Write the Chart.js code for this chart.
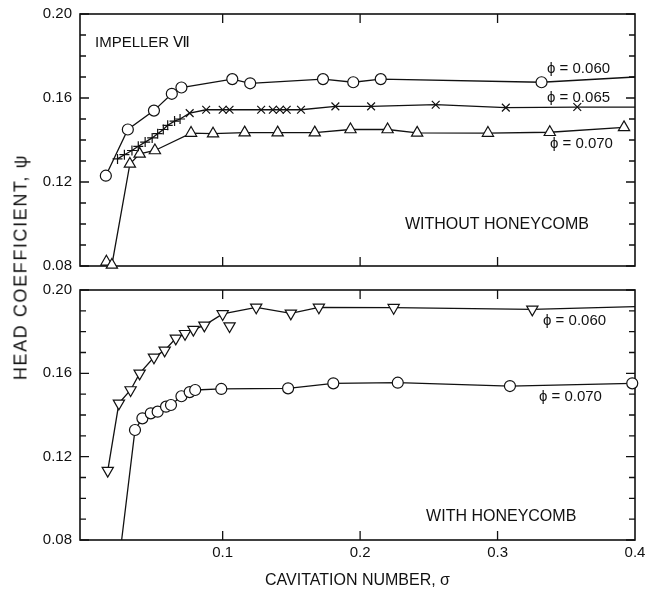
<!DOCTYPE html>
<html>
<head>
<meta charset="utf-8">
<script src="https://cdn.jsdelivr.net/npm/chart.js@4.4.0/dist/chart.umd.min.js"></script>
<style>
  body { margin: 0; background: #fff; }
  #wrap { position: relative; width: 661px; height: 596px; font-family: "Liberation Sans", Arial, sans-serif; color: #111; }
  #topChart { position: absolute; left: 0; top: 0; }
  #botChart { position: absolute; left: 0; top: 276px; }
  #ytitle { position: absolute; left: 21px; top: 267px; transform: translate(-50%, -50%) rotate(-90deg);
            white-space: nowrap; font-size: 18px; letter-spacing: 1.6px; }
</style>
</head>
<body>
<div id="wrap">
  <canvas id="topChart" width="661" height="280"></canvas>
  <canvas id="botChart" width="661" height="320"></canvas>
  <div id="ytitle">HEAD COEFFICIENT, ψ</div>
</div>
<script>
// values: sigma (x) and head coefficient psi (y)

// upper panel - without honeycomb
const topSigma060 = [0.015, 0.031, 0.050, 0.063, 0.070, 0.107, 0.120, 0.173, 0.195, 0.215, 0.332, 0.400];
const topPsi060   = [0.123, 0.145, 0.154, 0.162, 0.165, 0.169, 0.167, 0.169, 0.1675, 0.169, 0.1675, 0.170];

const topSigma065 = [0.0235, 0.0285, 0.034, 0.0386, 0.0436, 0.0487, 0.0527, 0.0568, 0.060, 0.065, 0.069,
                     0.076, 0.088, 0.100, 0.105, 0.128, 0.1365, 0.1416, 0.1466, 0.157, 0.182, 0.208, 0.255, 0.306, 0.358, 0.400];
const topPsi065   = [0.131, 0.133, 0.135, 0.137, 0.139, 0.141, 0.143, 0.145, 0.147, 0.149, 0.150,
                     0.1528, 0.1544, 0.1544, 0.1544, 0.1544, 0.1544, 0.1544, 0.1544, 0.1544, 0.156, 0.156, 0.1568, 0.1554, 0.1557, 0.1557];
const plusCount = 11; // first points of phi=0.065 are drawn as "+"

const topSigma070 = [0.0154, 0.0194, 0.0325, 0.0396, 0.0507, 0.077, 0.093, 0.116, 0.140, 0.167, 0.193, 0.220, 0.2415, 0.293, 0.338, 0.392];
const topPsi070   = [0.082, 0.0805, 0.1286, 0.1334, 0.135, 0.1433, 0.143, 0.1435, 0.1435, 0.1435, 0.145, 0.145, 0.1434, 0.1433, 0.1437, 0.146];

// lower panel - with honeycomb
const botSigma060 = [0.0164, 0.0245, 0.033, 0.0396, 0.050, 0.0578, 0.0659, 0.0726, 0.0787, 0.0867, 0.100, 0.1244, 0.1496, 0.170, 0.2244, 0.3253, 0.400];
const botPsi060   = [0.1133, 0.1456, 0.152, 0.160, 0.1677, 0.171, 0.1768, 0.179, 0.181, 0.183, 0.1885, 0.1917, 0.1888, 0.1917, 0.1915, 0.1907, 0.192];
const botStraySigma = [0.105];
const botStrayPsi   = [0.1827];

const botSigma070 = [0.0265, 0.0362, 0.0416, 0.0477, 0.0527, 0.0588, 0.0624, 0.070, 0.076, 0.080, 0.099, 0.1476, 0.1805, 0.2274, 0.309, 0.398];
const botPsi070   = [0.080, 0.1328, 0.1384, 0.1408, 0.1416, 0.144, 0.1448, 0.149, 0.151, 0.152, 0.1525, 0.1528, 0.1552, 0.1555, 0.1539, 0.1552];

// axes (the frame starts a little left of sigma = 0 in the figure)
const xMin = -0.0038, xMax = 0.4;
const yMin = 0.08, yMax = 0.20;
const xTickLabels = [0.1, 0.2, 0.3, 0.4];
const xInnerTicks = [0.1, 0.2, 0.3];
const yMajorTicks = [0.08, 0.12, 0.16, 0.20];
const yMinorTicks = [0.09, 0.10, 0.11, 0.13, 0.14, 0.15, 0.17, 0.18, 0.19];

const FONT = '"Liberation Sans", Arial, sans-serif';
const INK = '#111';

function pts(xs, ys) {
  return xs.map((v, i) => ({ x: v, y: ys[i] }));
}

// points sitting on the frame are only where the line runs off the plot
function markerSize(r) {
  return ctx => {
    const p = ctx.raw;
    return (p && (p.x >= xMax || p.y <= yMin)) ? 0 : r;
  };
}

function series(data, style, r, extra) {
  return Object.assign({
    data: data,
    borderColor: INK,
    borderWidth: 1.3,
    pointStyle: style,
    pointRadius: markerSize(r),
    pointBorderColor: INK,
    pointBorderWidth: 1.2,
    pointBackgroundColor: '#fff',
    tension: 0,
    clip: false
  }, extra || {});
}

// frame + inward ticks
const frameTicks = {
  id: 'frameTicks',
  beforeDatasetsDraw(chart) {
    const { ctx, chartArea: a, scales: { x, y } } = chart;
    ctx.save();
    ctx.strokeStyle = INK;
    ctx.lineWidth = 1.6;
    ctx.strokeRect(a.left, a.top, a.right - a.left, a.bottom - a.top);
    ctx.lineWidth = 1.3;
    ctx.beginPath();
    yMajorTicks.concat(yMinorTicks).forEach(v => {
      const py = y.getPixelForValue(v);
      const len = yMajorTicks.includes(v) ? 9 : 6;
      ctx.moveTo(a.left, py); ctx.lineTo(a.left + len, py);
      ctx.moveTo(a.right, py); ctx.lineTo(a.right - len, py);
    });
    xInnerTicks.forEach(v => {
      const px = x.getPixelForValue(v);
      ctx.moveTo(px, a.top); ctx.lineTo(px, a.top + 9);
      ctx.moveTo(px, a.bottom); ctx.lineTo(px, a.bottom - 9);
    });
    ctx.stroke();
    ctx.restore();
  }
};

// text labels inside the panels
const notes = {
  id: 'notes',
  afterDraw(chart, args, opts) {
    const { ctx, scales: { x, y } } = chart;
    ctx.save();
    ctx.fillStyle = INK;
    ctx.textAlign = 'left';
    ctx.textBaseline = 'middle';
    (opts.items || []).forEach(n => {
      ctx.font = n.size + 'px ' + FONT;
      ctx.fillText(n.text, x.getPixelForValue(n.x), y.getPixelForValue(n.y));
    });
    ctx.restore();
  }
};

function yAxis() {
  return {
    type: 'linear',
    min: yMin, max: yMax,
    afterBuildTicks: s => { s.ticks = yMajorTicks.map(v => ({ value: v })); },
    // fixed width, and no extra room for label overflow so the frame sits where the padding says
    afterFit: s => { s.width = 80; s.paddingTop = 0; s.paddingBottom = 0; },
    grid: { display: false, drawTicks: false },
    border: { display: false },
    ticks: {
      padding: 8,
      color: INK,
      font: { family: FONT, size: 15 },
      callback: v => v.toFixed(2)
    }
  };
}

const topNotes = [
  { text: 'IMPELLER Ⅶ', x: 0.0071, y: 0.1861, size: 15 },
  { text: 'ϕ = 0.060', x: 0.3360, y: 0.1737, size: 15 },
  { text: 'ϕ = 0.065', x: 0.3360, y: 0.1603, size: 15 },
  { text: 'ϕ = 0.070', x: 0.3381, y: 0.1383, size: 15 },
  { text: 'WITHOUT HONEYCOMB', x: 0.2326, y: 0.0996, size: 16 }
];

const botNotes = [
  { text: 'ϕ = 0.060', x: 0.3331, y: 0.1851, size: 15 },
  { text: 'ϕ = 0.070', x: 0.3301, y: 0.1486, size: 15 },
  { text: 'WITH HONEYCOMB', x: 0.2480, y: 0.0910, size: 16 }
];

new Chart(document.getElementById('topChart'), {
  type: 'line',
  data: {
    datasets: [
      series(pts(topSigma060, topPsi060), 'circle', 5.5),
      series(pts(topSigma065, topPsi065), 'cross', 5, {
        pointStyle: ctx => ctx.dataIndex < plusCount ? 'cross' : 'crossRot',
        pointRadius: ctx => {
          const p = ctx.raw;
          if (p && p.x >= xMax) return 0;
          return ctx.dataIndex < plusCount ? 5 : 5.5;
        }
      }),
      series(pts(topSigma070, topPsi070), 'triangle', 6.5)
    ]
  },
  options: {
    responsive: false,
    animation: false,
    layout: { padding: { left: 0, right: 26, top: 14, bottom: 14 } },
    plugins: { legend: { display: false }, tooltip: { enabled: false }, notes: { items: topNotes } },
    scales: {
      x: { type: 'linear', min: xMin, max: xMax, display: false },
      y: yAxis()
    }
  },
  plugins: [frameTicks, notes]
});

new Chart(document.getElementById('botChart'), {
  type: 'line',
  data: {
    datasets: [
      series(pts(botSigma060, botPsi060), 'triangle', 6.5, { pointRotation: 180 }),
      series(pts(botStraySigma, botStrayPsi), 'triangle', 6.5, { pointRotation: 180, showLine: false }),
      series(pts(botSigma070, botPsi070), 'circle', 5.5)
    ]
  },
  options: {
    responsive: false,
    animation: false,
    layout: { padding: { left: 0, right: 26, top: 14, bottom: 6 } },
    plugins: { legend: { display: false }, tooltip: { enabled: false }, notes: { items: botNotes } },
    scales: {
      x: {
        type: 'linear', min: xMin, max: xMax,
        afterBuildTicks: s => { s.ticks = xTickLabels.map(v => ({ value: v })); },
        afterFit: s => { s.height = 50; s.paddingLeft = 0; s.paddingRight = 0; },
        grid: { display: false, drawTicks: false },
        border: { display: false },
        ticks: { padding: 4, color: INK, font: { family: FONT, size: 15 }, callback: v => v.toFixed(1) },
        title: {
          display: true,
          text: 'CAVITATION NUMBER, σ',
          color: INK,
          font: { family: FONT, size: 16 },
          padding: { top: 8, bottom: 0 }
        }
      },
      y: yAxis()
    }
  },
  plugins: [frameTicks, notes]
});
</script>
</body>
</html>
